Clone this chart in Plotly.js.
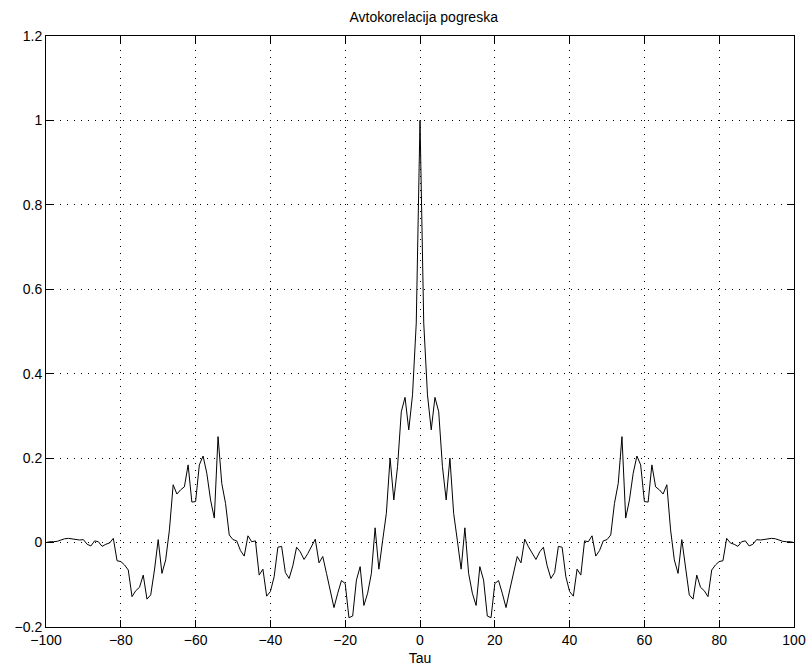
<!DOCTYPE html>
<html>
<head>
<meta charset="utf-8">
<script src="https://cdn.plot.ly/plotly-3.0.1.min.js"></script>
<style>
html,body{margin:0;padding:0;background:#fff;}
#chart{width:807px;height:668px;}
</style>
</head>
<body>
<div id="chart"></div>
<script>
// Autocorrelation of the error, lags -100 .. 100 (step 1)
const tauStart = -100;
const tauStep = 1;
const xTicks = [-100, -80, -60, -40, -20, 0, 20, 40, 60, 80, 100];
const yTicks = [-0.2, 0, 0.2, 0.4, 0.6, 0.8, 1, 1.2];

// lags -100 .. -1
const acfNeg = [
  0.000, 0.002, 0.002, 0.003, 0.006, 0.009, 0.010, 0.009, 0.007, 0.006,
  0.007, -0.004, -0.008, 0.004, 0.002, -0.009, -0.004, -0.001, 0.010, -0.043,
  -0.045, -0.053, -0.065, -0.128, -0.114, -0.106, -0.077, -0.134, -0.124, -0.065,
  0.007, -0.073, -0.041, 0.030, 0.137, 0.115, 0.125, 0.132, 0.184, 0.096,
  0.097, 0.184, 0.205, 0.164, 0.101, 0.058, 0.251, 0.140, 0.093, 0.018,
  0.007, 0.004, -0.019, -0.032, 0.016, 0.002, 0.004, -0.077, -0.063, -0.127,
  -0.116, -0.081, -0.011, -0.009, -0.071, -0.085, -0.055, -0.011, -0.022, -0.040,
  -0.026, -0.010, 0.008, -0.048, -0.033, -0.073, -0.112, -0.154, -0.120, -0.090,
  -0.097, -0.178, -0.174, -0.089, -0.057, -0.149, -0.120, -0.073, 0.035, -0.063,
  0.004, 0.069, 0.200, 0.101, 0.180, 0.310, 0.344, 0.267, 0.350, 0.520
];
// lag 0
const acfZero = [1.000];
// lags 1 .. 100
const acfPos = [
  0.520, 0.350, 0.267, 0.344, 0.310, 0.180, 0.101, 0.200, 0.069, 0.004,
  -0.063, 0.035, -0.073, -0.120, -0.149, -0.057, -0.089, -0.174, -0.178, -0.097,
  -0.090, -0.120, -0.154, -0.112, -0.073, -0.033, -0.048, 0.008, -0.010, -0.026,
  -0.040, -0.022, -0.011, -0.055, -0.085, -0.071, -0.009, -0.011, -0.081, -0.116,
  -0.127, -0.063, -0.077, 0.004, 0.002, 0.016, -0.032, -0.019, 0.004, 0.007,
  0.018, 0.093, 0.140, 0.251, 0.058, 0.101, 0.164, 0.205, 0.184, 0.097,
  0.096, 0.184, 0.132, 0.125, 0.115, 0.137, 0.030, -0.041, -0.073, 0.007,
  -0.065, -0.124, -0.134, -0.077, -0.106, -0.114, -0.128, -0.065, -0.053, -0.045,
  -0.043, 0.010, -0.001, -0.004, -0.009, 0.002, 0.004, -0.008, -0.004, 0.007,
  0.006, 0.007, 0.009, 0.010, 0.009, 0.006, 0.003, 0.002, 0.002, 0.000
];

const acf = acfNeg.concat(acfZero, acfPos);

const trace = {
  type: 'scatter',
  mode: 'lines',
  x0: tauStart,
  dx: tauStep,
  y: acf,
  line: {color: '#000000', width: 1},
  hoverinfo: 'x+y'
};

const fontFam = 'Liberation Sans, Arial, sans-serif';

const axisCommon = {
  showline: true,
  linecolor: '#000000',
  linewidth: 1,
  mirror: 'ticks',
  ticks: 'inside',
  ticklen: 7,
  tickwidth: 1,
  tickcolor: '#000000',
  showgrid: true,
  gridcolor: '#000000',
  gridwidth: 1,
  griddash: '1px,6px',
  zeroline: false,
  tickfont: {family: fontFam, size: 14, color: '#000000'}
};

const layout = {
  width: 807,
  height: 668,
  margin: {l: 46, r: 13, t: 36, b: 41},
  paper_bgcolor: '#ffffff',
  plot_bgcolor: '#ffffff',
  showlegend: false,
  title: {
    text: 'Avtokorelacija pogreska',
    font: {family: fontFam, size: 14, color: '#000000'},
    x: 0.505, xanchor: 'center', xref: 'paper',
    y: 0.975, yanchor: 'middle', yref: 'container'
  },
  xaxis: Object.assign({}, axisCommon, {
    range: [-100, 100],
    tickvals: xTicks,
    title: {text: 'Tau', standoff: 6,
      font: {family: fontFam, size: 14, color: '#000000'}}
  }),
  yaxis: Object.assign({}, axisCommon, {
    range: [-0.2, 1.2],
    tickvals: yTicks
  })
};

Plotly.newPlot('chart', [trace], layout, {displayModeBar: false, staticPlot: true});
</script>
</body>
</html>
